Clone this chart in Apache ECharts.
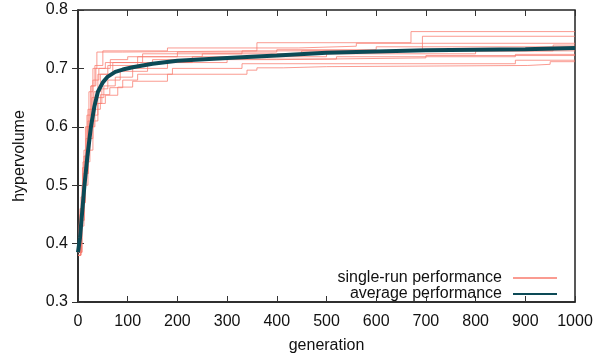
<!DOCTYPE html>
<html><head><meta charset="utf-8">
<script src="https://cdn.jsdelivr.net/npm/echarts@6/dist/echarts.min.js"></script>
<style>html,body{margin:0;padding:0;background:#fff}#c{width:597px;height:360px}</style>
</head><body><div id="c"></div>
<script>
// generation ticks / labels
var xTicks = [0,100,200,300,400,500,600,700,800,900,1000];
var yTicks = [0.3,0.4,0.5,0.6,0.7,0.8];
var singleName = 'single-run performance';
var avgName = 'average performance';

// single runs: [generation, hypervolume] at each improvement
var run1 = [[0,0.385],[4,0.46],[9,0.53],[15,0.6],[22,0.66],[30,0.7],[38,0.728],[90,0.73],[360,0.744],[670,0.763],[1000,0.763]];
var run2 = [[0,0.39],[6,0.48],[12,0.55],[20,0.61],[28,0.65],[40,0.69],[60,0.705],[120,0.72],[250,0.725],[450,0.73],[693,0.755],[1000,0.755]];
var run3 = [[0,0.38],[5,0.45],[10,0.52],[18,0.6],[26,0.67],[34,0.705],[50,0.73],[180,0.735],[443,0.738],[560,0.743],[1000,0.743]];
var run4 = [[0,0.385],[8,0.5],[16,0.58],[24,0.63],[32,0.66],[45,0.69],[70,0.71],[130,0.725],[330,0.73],[956,0.74],[1000,0.74]];
var run5 = [[0,0.39],[5,0.46],[12,0.56],[20,0.63],[30,0.68],[42,0.7],[65,0.715],[100,0.72],[200,0.728],[400,0.732],[600,0.737],[1000,0.737]];
var run6 = [[0,0.385],[7,0.47],[14,0.55],[22,0.6],[32,0.64],[48,0.665],[60,0.68],[85,0.695],[140,0.71],[230,0.72],[500,0.725],[800,0.73],[1000,0.73]];
var run7 = [[0,0.38],[6,0.44],[13,0.52],[21,0.58],[30,0.62],[40,0.65],[52,0.67],[75,0.685],[110,0.7],[180,0.71],[300,0.716],[520,0.72],[880,0.724],[1000,0.724]];
var run8 = [[0,0.39],[4,0.45],[10,0.54],[18,0.62],[26,0.67],[36,0.7],[55,0.71],[150,0.715],[400,0.718],[700,0.722],[1000,0.722]];
var run9 = [[0,0.385],[8,0.47],[15,0.54],[24,0.6],[34,0.63],[45,0.655],[64,0.667],[90,0.68],[120,0.69],[190,0.7],[330,0.708],[880,0.714],[1000,0.714]];
var run10 = [[0,0.38],[6,0.43],[12,0.5],[20,0.56],[30,0.61],[40,0.64],[55,0.654],[80,0.668],[110,0.678],[180,0.69],[340,0.697],[360,0.701],[413,0.703],[500,0.705],[905,0.707],[950,0.7115],[1000,0.7115]];
var runs = [run1,run2,run3,run4,run5,run6,run7,run8,run9,run10];

// average over runs
var avgGen = [0,4,8,13,19,26,33,40,50,60,75,90,110,150,200,300,400,500,600,700,800,900,1000];
var avgVal = [0.385,0.41,0.45,0.5,0.55,0.6,0.635,0.66,0.676,0.686,0.694,0.698,0.702,0.708,0.713,0.718,0.722,0.727,0.729,0.731,0.732,0.733,0.735];

var font = 'Liberation Sans, Arial, sans-serif';
var series = runs.map(function(r){
  return {name: singleName, type:'line', step:'end', symbol:'none', data:r,
    lineStyle:{color:'#f87a6c', width:1, opacity:0.75}, itemStyle:{color:'#f87a6c'},
    emphasis:{disabled:true}, animation:false, xAxisIndex:0, yAxisIndex:0};
});
series.push({name: avgName, type:'line', symbol:'none', smooth:false,
  data: avgGen.map(function(g,i){return [g, avgVal[i]];}),
  lineStyle:{color:'#0c4a56', width:4}, itemStyle:{color:'#0c4a56'},
  emphasis:{disabled:true}, animation:false, z:5});

var chart = echarts.init(document.getElementById('c'), null, {renderer:'canvas'});
var axisTick = {show:true, inside:true, length:6, lineStyle:{color:'#333', width:1}};
chart.setOption({
  animation:false,
  backgroundColor:'#fff',
  textStyle:{fontFamily:font},
  grid:{left:78, top:10, right:22, bottom:58, show:true, borderColor:'#222', borderWidth:1.5, backgroundColor:'transparent'},
  legend:{
    orient:'vertical', right:34, top:265, align:'right', itemWidth:44, itemHeight:14, itemGap:0,
    data:[singleName, avgName],
    itemStyle:{color:'rgba(0,0,0,0)', borderColor:'rgba(0,0,0,0)', borderWidth:0},
    textStyle:{fontFamily:font, fontSize:16, color:'#111', lineHeight:16, padding:[0,6,0,0]},
    selectedMode:false
  },
  xAxis:[{
    type:'value', min:0, max:1000, interval:100,
    name:'generation', nameLocation:'middle', nameGap:36,
    nameTextStyle:{fontFamily:font, fontSize:16, color:'#111'},
    axisLine:{show:true, lineStyle:{color:'#222', width:1.5}},
    axisTick:axisTick,
    axisLabel:{fontFamily:font, fontSize:16, color:'#111', margin:12, formatter:function(v){return String(v);}},
    splitLine:{show:false}
  },{
    type:'value', min:0, max:1000, interval:100, position:'top',
    axisLine:{show:false}, axisTick:axisTick, axisLabel:{show:false}, splitLine:{show:false}
  }],
  yAxis:[{
    type:'value', min:0.3, max:0.8, interval:0.1,
    name:'hypervolume', nameLocation:'middle', nameGap:50, nameRotate:90,
    nameTextStyle:{fontFamily:font, fontSize:16, color:'#111'},
    axisLine:{show:true, lineStyle:{color:'#222', width:1.5}},
    axisTick:axisTick,
    axisLabel:{fontFamily:font, fontSize:16, color:'#111', margin:10, formatter:function(v){return v.toFixed(1);}},
    splitLine:{show:false}
  },{
    type:'value', min:0.3, max:0.8, interval:0.1, position:'right',
    axisLine:{show:false}, axisTick:axisTick, axisLabel:{show:false}, splitLine:{show:false}
  }],
  series: series
});
</script></body></html>
